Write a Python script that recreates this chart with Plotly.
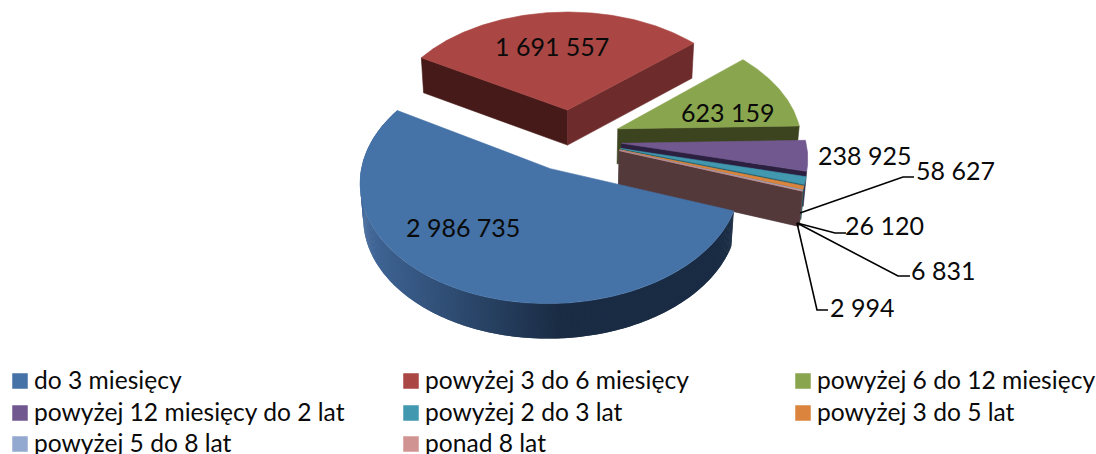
import numpy as np
import plotly.graph_objects as go

categories = ["do 3 miesięcy", "powyżej 3 do 6 miesięcy", "powyżej 6 do 12 miesięcy",
              "powyżej 12 miesięcy do 2 lat", "powyżej 2 do 3 lat", "powyżej 3 do 5 lat",
              "powyżej 5 do 8 lat", "ponad 8 lat"]
values = [2986735, 1691557, 623159, 238925, 58627, 26120, 6831, 2994]
value_labels = ["2 986 735", "1 691 557", "623 159", "238 925", "58 627", "26 120", "6 831", "2 994"]
top_colors = ["#4572A7", "#AA4643", "#89A54E", "#71588F", "#4198AF", "#DB843D", "#93A9CF", "#D19392"]
end_wall_colors = ["#1a2c44", "#6d2b2b", "#3c431f", "#2b2040", "#1f5a68", "#8a4f20", "#5a6a85", "#53393a"]

FONT = "Lato"
FS = 25
KEY_FS = 24.6
TXT = "#0a0a0a"

# projection of the pie plane
CX, CY, AX, BY, K = 572, 140, 184, 114.3, 0.105
DEPTH, TAPER = 35, 0.985
START, EXPLODE = 109.8, 0.27


def proj(X, Y, down=0.0):
    w = 1 - K * Y
    sx = CX + AX * X / w
    sy = CY + BY * Y / w
    if down:
        sx = CX + (sx - CX) * TAPER
        sy = sy + down
    return sx, sy


def poly(xs, ys, color, fig, width=0.6):
    fig.add_trace(go.Scatter(x=xs, y=ys, mode="lines", fill="toself", fillcolor=color,
                             line=dict(color=color, width=width), hoverinfo="skip", showlegend=False))


def mix(a, b, t):
    ca = [int(a[i:i + 2], 16) for i in (1, 3, 5)]
    cb = [int(b[i:i + 2], 16) for i in (1, 3, 5)]
    return "rgb(%d,%d,%d)" % tuple(round(p + (q - p) * t) for p, q in zip(ca, cb))


fig = go.Figure()
fractions = np.array(values) / sum(values)
edges = START + 360 * np.concatenate([[0], np.cumsum(fractions)])

slices = []
for i in range(len(values)):
    a0, a1 = edges[i], edges[i + 1]
    mid = np.radians((a0 + a1) / 2)
    ox, oy = EXPLODE * np.sin(mid), -EXPLODE * np.cos(mid)
    ang = np.radians(np.linspace(a0, a1, max(6, int((a1 - a0) * 2))))
    X, Y = ox + np.sin(ang), oy - np.cos(ang)
    slices.append((ox, oy, X, Y))

# drawn back to front: the large blue slice comes last
for i in [1, 2, 3, 4, 5, 6, 7, 0]:
    ox, oy, X, Y = slices[i]
    if i == 0:
        # rim, shaded by horizontal position; each band overlaps the next to hide seams
        n = len(X)
        for j in range(n - 1):
            e = min(j + 2, n - 1)
            x0, y0 = proj(X[j], Y[j]); x1, y1 = proj(X[e], Y[e])
            x2, y2 = proj(X[e], Y[e], DEPTH); x3, y3 = proj(X[j], Y[j], DEPTH)
            t = float(np.clip((560 - x0) / 200, 0, 1))
            poly([x0, x1, x2, x3, x0], [y0, y1, y2, y3, y0], mix("#1a2c44", "#41689a", t), fig, width=0)
    else:
        if i == 1:
            # leading cut face of the red slice
            ax, ay = proj(ox, oy); bx, by = proj(X[0], Y[0])
            cx, cy = proj(X[0], Y[0], DEPTH); dx, dy = proj(ox, oy, DEPTH)
            poly([ax, bx, cx, dx, ax], [ay, by, cy, dy, ay], "#451a18", fig)
        ax, ay = proj(ox, oy); bx, by = proj(X[-1], Y[-1])
        cx, cy = proj(X[-1], Y[-1], DEPTH); dx, dy = proj(ox, oy, DEPTH)
        poly([ax, bx, cx, dx, ax], [ay, by, cy, dy, ay], end_wall_colors[i], fig)
    sx, sy = proj(np.concatenate([[ox], X, [ox]]), np.concatenate([[oy], Y, [oy]]))
    poly(sx, sy, top_colors[i], fig)

# leader lines
leaders = [([800, 903, 914], [213, 177, 177]),
           ([797, 835, 846], [223, 233, 233]),
           ([797, 898, 910], [223, 276, 276]),
           ([797, 817, 828], [223, 310, 310])]
for lx, ly in leaders:
    fig.add_trace(go.Scatter(x=lx, y=ly, mode="lines", line=dict(color="#000000", width=1.6),
                             hoverinfo="skip", showlegend=False))

label_pos = [(463, 227), (552, 46), (727, 112), (864, 155), (955, 170), (884, 225), (943, 270), (862, 307)]
for txt, (lx, ly) in zip(value_labels, label_pos):
    fig.add_annotation(x=lx, y=ly, text=txt, showarrow=False, xref="x", yref="y",
                       font=dict(family=FONT, size=FS, color=TXT))

# three-column key, laid out as in the reference
key_x = [20, 411, 803]
key_y = [381, 413, 444]
for k, (name, col) in enumerate(zip(categories, top_colors)):
    kx, ky = key_x[k % 3], key_y[k // 3]
    fig.add_trace(go.Scatter(x=[kx], y=[ky], mode="markers", hoverinfo="skip", showlegend=False,
                             cliponaxis=False,
                             marker=dict(symbol="square", size=15.5, color=col)))
    fig.add_annotation(x=kx + 12, y=ky - 2, text=name, showarrow=False, xanchor="left", xref="x", yref="y",
                       font=dict(family=FONT, size=KEY_FS, color=TXT))

fig.update_layout(
    width=1096, height=454, autosize=False,
    margin=dict(l=0, r=0, t=0, b=0),
    paper_bgcolor="#ffffff", plot_bgcolor="#ffffff", showlegend=False,
    xaxis=dict(range=[0, 1096], visible=False, fixedrange=True),
    yaxis=dict(range=[454, 0], visible=False, fixedrange=True),
)
fig.write_html("out.html", config={"displayModeBar": False},
               post_script="document.body.style.margin='0';document.body.style.overflow='hidden';")
